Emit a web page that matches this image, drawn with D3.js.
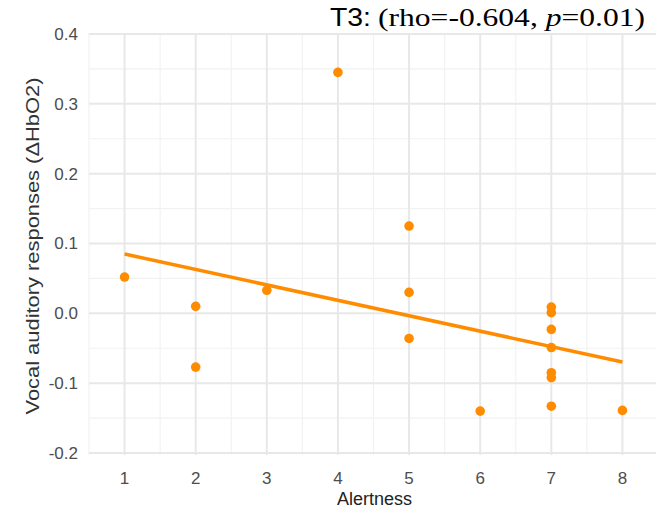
<!DOCTYPE html>
<html>
<head>
<meta charset="utf-8">
<script src="https://cdn.jsdelivr.net/npm/d3@7"></script>
<style>
  body { margin: 0; background: #fff; }
  svg { display: block; }
</style>
</head>
<body>
<div id="container"></div>
<script>
let w = 656;
let h = 513;

// data
let alertness = [1, 2, 2, 3, 4, 5, 5, 5, 6, 7, 7, 7, 7, 7, 7, 7, 8];
let responses = [0.052, 0.010, -0.077, 0.033, 0.345, 0.125, 0.030, -0.036, -0.140,
                 0.009, 0.001, -0.023, -0.049, -0.085, -0.092, -0.133, -0.139];
let xTicks = [1, 2, 3, 4, 5, 6, 7, 8];
let yTicks = [-0.2, -0.1, 0.0, 0.1, 0.2, 0.3, 0.4];

let panel = {left: 89, right: 656, top: 33, bottom: 455};

let viz = d3.select("#container").append("svg")
    .attr("width", w)
    .attr("height", h)
    .style("background-color", "white");

let x = d3.scaleLinear().domain([0.5, 8.5]).range([panel.left, panel.right + 2]);
let y = d3.scaleLinear().domain([-0.2, 0.4]).range([453, 34]);

// minor grid
let xMinor = d3.range(0.5, 8.6, 1);
let yMinor = d3.range(-0.15, 0.4, 0.1);
viz.append("g").selectAll("line").data(xMinor).enter().append("line")
    .attr("x1", d => x(d)).attr("x2", d => x(d))
    .attr("y1", panel.top).attr("y2", panel.bottom)
    .attr("stroke", "#f2f2f2").attr("stroke-width", 1.2);
viz.append("g").selectAll("line").data(yMinor).enter().append("line")
    .attr("x1", panel.left).attr("x2", panel.right)
    .attr("y1", d => y(d)).attr("y2", d => y(d))
    .attr("stroke", "#f2f2f2").attr("stroke-width", 1.2);

// major grid
viz.append("g").selectAll("line").data(xTicks).enter().append("line")
    .attr("x1", d => x(d)).attr("x2", d => x(d))
    .attr("y1", panel.top).attr("y2", panel.bottom)
    .attr("stroke", "#e8e8e8").attr("stroke-width", 2);
viz.append("g").selectAll("line").data(yTicks).enter().append("line")
    .attr("x1", panel.left).attr("x2", panel.right)
    .attr("y1", d => y(d)).attr("y2", d => y(d))
    .attr("stroke", "#e8e8e8").attr("stroke-width", 2);

// tick labels
viz.append("g").selectAll("text").data(yTicks).enter().append("text")
    .attr("x", 78).attr("y", d => y(d))
    .attr("dy", "0.35em")
    .attr("text-anchor", "end")
    .attr("font-family", "Liberation Sans, Arial, sans-serif")
    .attr("font-size", 17)
    .attr("fill", "#4d4d4d")
    .text(d => d.toFixed(1));
viz.append("g").selectAll("text").data(xTicks).enter().append("text")
    .attr("x", d => x(d)).attr("y", 484)
    .attr("text-anchor", "middle")
    .attr("font-family", "Liberation Sans, Arial, sans-serif")
    .attr("font-size", 17)
    .attr("fill", "#4d4d4d")
    .text(d => d);

// axis titles
viz.append("text")
    .attr("x", (panel.left + panel.right) / 2 + 2).attr("y", 505)
    .attr("text-anchor", "middle")
    .attr("font-family", "Liberation Sans, Arial, sans-serif")
    .attr("font-size", 18)
    .attr("fill", "#222")
    .text("Alertness");
viz.append("text")
    .attr("transform", "translate(39,246) rotate(-90)")
    .attr("text-anchor", "middle")
    .attr("font-family", "Liberation Sans, Arial, sans-serif")
    .attr("font-size", 17.5)
    .attr("textLength", 337)
    .attr("lengthAdjust", "spacingAndGlyphs")
    .attr("fill", "#333")
    .text("Vocal auditory responses (\u0394HbO2)");

// least squares fit
let mx = d3.mean(alertness);
let my = d3.mean(responses);
let sxy = d3.sum(alertness, (d, i) => (d - mx) * (responses[i] - my));
let sxx = d3.sum(alertness, d => (d - mx) * (d - mx));
let slope = sxy / sxx;
let icept = my - slope * mx;
let xr = d3.extent(alertness);
let fitLine = d3.line().x(d => x(d)).y(d => y(icept + slope * d));

viz.append("path")
    .datum(xr)
    .attr("d", fitLine)
    .attr("fill", "none")
    .attr("stroke", "#ff8c00")
    .attr("stroke-width", 3.5);

// points
viz.append("g").selectAll("circle").data(alertness).enter().append("circle")
    .attr("cx", d => x(d))
    .attr("cy", (d, i) => y(responses[i]))
    .attr("r", 4.8)
    .attr("fill", "#ff8c00");

// title
viz.append("text")
    .attr("x", 330).attr("y", 26)
    .attr("font-family", "Liberation Sans, Arial, sans-serif")
    .attr("font-size", 25)
    .attr("textLength", 41)
    .attr("lengthAdjust", "spacingAndGlyphs")
    .attr("fill", "#000")
    .text("T3:");
let title = viz.append("text")
    .attr("x", 378).attr("y", 26)
    .attr("font-family", "Liberation Serif, Times New Roman, serif")
    .attr("font-size", 26)
    .attr("textLength", 267)
    .attr("lengthAdjust", "spacingAndGlyphs")
    .attr("fill", "#000");
title.append("tspan").text("(rho=-0.604, ");
title.append("tspan").attr("font-style", "italic").text("p");
title.append("tspan").text("=0.01)");
</script>
</body>
</html>
